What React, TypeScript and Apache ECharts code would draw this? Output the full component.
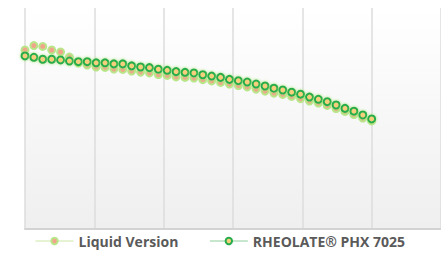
import React, { useEffect, useRef } from "react";
import * as echarts from "echarts";

const seriesNames = ["Liquid Version", "RHEOLATE® PHX 7025"];

const xValues = [
  0, 0.128, 0.256, 0.385, 0.513, 0.641, 0.769, 0.897, 1.026, 1.154,
  1.282, 1.41, 1.538, 1.667, 1.795, 1.923, 2.051, 2.179, 2.308, 2.436,
  2.564, 2.692, 2.821, 2.949, 3.077, 3.205, 3.333, 3.462, 3.59, 3.718,
  3.846, 3.974, 4.103, 4.231, 4.359, 4.487, 4.615, 4.744, 4.872, 5.0,
];

const liquidValues = [
  81.0, 83.0, 82.6, 81.0, 80.1, 77.8, 75.1, 74.2, 73.3, 73.1,
  72.4, 72.2, 71.5, 71.0, 70.6, 69.9, 69.5, 68.8, 68.6, 68.3,
  67.6, 67.0, 66.3, 65.6, 64.9, 64.3, 63.3, 62.4, 61.5, 60.9,
  60.0, 59.0, 57.9, 57.0, 55.9, 54.5, 53.2, 51.8, 50.2, 48.9,
];

const rheolateValues = [
  78.3, 77.7, 76.8, 76.8, 76.5, 76.0, 75.7, 75.7, 75.2, 75.2,
  74.7, 74.7, 73.8, 73.3, 73.0, 72.3, 71.8, 71.2, 70.9, 70.6,
  69.8, 69.2, 68.6, 67.7, 67.1, 66.5, 65.6, 64.7, 63.7, 62.9,
  61.9, 61.0, 59.7, 58.7, 57.6, 56.1, 54.6, 53.3, 51.6, 49.8,
];

export default function App() {
  const ref = useRef<HTMLDivElement>(null);
  useEffect(() => {
    if (!ref.current) return;
    const chart = echarts.init(ref.current, null, { renderer: "svg" });
    chart.setOption({
      animation: false,
      backgroundColor: "#ffffff",
      grid: {
        left: 25,
        right: 0,
        top: 8,
        bottom: 26,
        show: true,
        borderWidth: 0,
        backgroundColor: new echarts.graphic.LinearGradient(0, 0, 0, 1, [
          { offset: 0, color: "#ffffff" },
          { offset: 1, color: "#efefef" },
        ]),
      },
      legend: {
        left: 30,
        bottom: 2,
        itemWidth: 38,
        itemHeight: 8,
        itemGap: 31,
        textStyle: {
          fontFamily: "Open Sans",
          fontWeight: "bold",
          fontSize: 14,
          color: "#5a5a5a",
        },
        data: [
          {
            name: seriesNames[0],
            lineStyle: { color: "#cde8a8", width: 1, opacity: 1 },
          },
          {
            name: seriesNames[1],
            lineStyle: { color: "#8fd09c", width: 1, opacity: 1 },
          },
        ],
      },
      xAxis: {
        type: "value",
        min: 0,
        max: 6,
        interval: 1,
        axisLabel: { show: false },
        axisTick: { show: false },
        axisLine: { show: true, lineStyle: { color: "#d3d3d3", width: 2 } },
        splitLine: { show: true, lineStyle: { color: "#dcdcdc", width: 1.5 } },
      },
      yAxis: {
        type: "value",
        min: 0,
        max: 100,
        axisLabel: { show: false },
        axisTick: { show: false },
        axisLine: { show: false },
        splitLine: { show: false },
      },
      series: [
        {
          name: seriesNames[0],
          type: "line",
          data: xValues.map((x, i) => [x, liquidValues[i]]),
          symbol: "circle",
          symbolSize: 7,
          showSymbol: true,
          lineStyle: { opacity: 0, width: 0 },
          itemStyle: {
            color: "#f2a48a",
            borderColor: "#b9e68a",
            borderWidth: 2,
          },
        },
        {
          name: seriesNames[1],
          type: "line",
          data: xValues.map((x, i) => [x, rheolateValues[i]]),
          symbol: "circle",
          symbolSize: 7,
          showSymbol: true,
          lineStyle: { opacity: 0, width: 0 },
          itemStyle: {
            color: "#f5cf7c",
            borderColor: "#26ad4c",
            borderWidth: 2,
            shadowBlur: 3,
            shadowColor: "#a6e67a",
          },
        },
      ],
    });
    return () => chart.dispose();
  }, []);
  return (
    <div
      ref={ref}
      style={{ position: "fixed", left: 0, top: 0, width: 441, height: 255 }}
    />
  );
}
